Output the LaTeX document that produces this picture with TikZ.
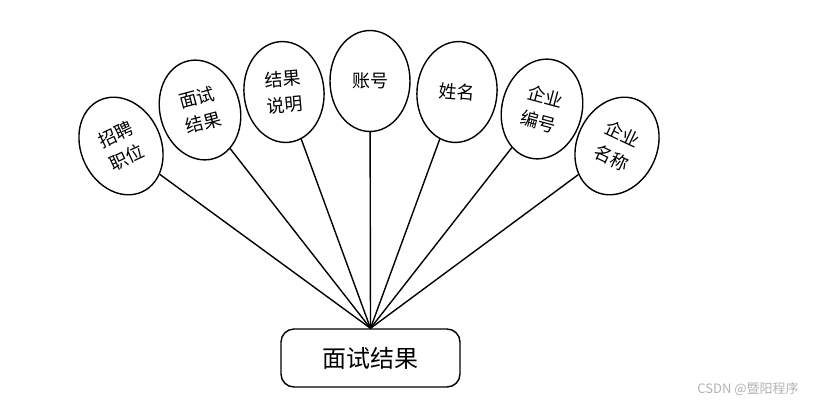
\documentclass[tikz,border=0pt]{standalone}
\usepackage{fontspec}
\setmainfont{Noto Sans CJK SC}
\usepackage{tikz}
\usetikzlibrary{shapes.geometric}

\begin{document}
\begin{tikzpicture}[x=1pt, y=-1pt,
	attr/.style={draw, line width=1.4pt, ellipse, inner sep=0pt, minimum width=80pt, minimum height=101pt, align=center, font=\fontsize{18}{26}\selectfont},
	entity/.style={draw, line width=1.4pt, rounded corners=13pt, minimum width=179pt, minimum height=58pt, font=\fontsize{24}{28}\selectfont},
	link/.style={line width=1.4pt}]
	\useasboundingbox (0,0) rectangle (819,405);
	\node[entity] (box) at (370.5,358) {面试结果};
	\node[attr, rotate=25] (post) at (121,146) {招聘\\职位};
	\node[attr, rotate=15] (result) at (200,110) {面试\\结果};
	\node[attr, rotate=5] (note) at (284,92) {结果\\说明};
	\node[attr] (account) at (370,81) {账号};
	\node[attr, rotate=-5] (uname) at (457,92) {姓名};
	\node[attr, rotate=-15] (compid) at (542,109) {企业\\编号};
	\node[attr, rotate=-25] (compname) at (617,146) {企业\\名称};
	\foreach \n in {post,result,note,account,uname,compid,compname}
		\draw[link] (\n) -- (box.north);
	\node[gray!60, font=\fontsize{13}{15}\selectfont] (mark) at (748,389) {CSDN @暨阳程序};
\end{tikzpicture}
\end{document}
